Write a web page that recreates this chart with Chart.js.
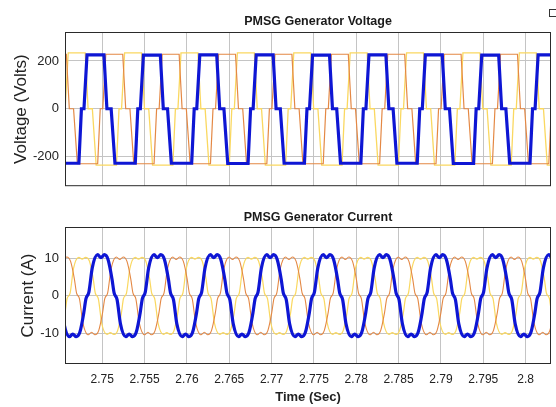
<!DOCTYPE html>
<html>
<head>
<meta charset="utf-8">
<title>PMSG Generator Voltage / Current</title>
<script src="https://cdn.jsdelivr.net/npm/chart.js"></script>
<style>
  html, body { margin: 0; padding: 0; background: #fff; }
  #wrap { position: relative; width: 556px; height: 407px; overflow: hidden; font-family: "Liberation Sans", Arial, sans-serif; }
  .plot { position: absolute; left: 0; width: 556px; }
  .ttl { position: absolute; left: 218px; width: 200px; text-align: center; font-weight: bold; font-size: 12.5px; line-height: 14px; color: #1a1a1a; white-space: nowrap; z-index: 2; }
  .icon { position: absolute; left: 549px; top: 9px; width: 6px; height: 6px; border: 1.5px solid #333; }
</style>
</head>
<body>
<div id="wrap">
  <div class="plot" style="top:0;height:200px"><canvas id="voltChart"></canvas></div>
  <div class="plot" style="top:200px;height:207px"><canvas id="currChart"></canvas></div>
  <div class="ttl" style="top:14px">PMSG Generator Voltage</div>
  <div class="ttl" style="top:210px">PMSG Generator Current</div>
  <div class="icon"></div>
</div>

<script>
// ---- axes ----
const xMin = 2.7456, xMax = 2.8030;
const timeTicks = [2.75, 2.755, 2.76, 2.765, 2.77, 2.775, 2.78, 2.785, 2.79, 2.795, 2.8];
const timeLabels = ["2.75", "2.755", "2.76", "2.765", "2.77", "2.775", "2.78", "2.785", "2.79", "2.795", "2.8"];
const voltTicks = [-200, 0, 200];
const currTicks = [-10, 0, 10];

// ---- generator voltage, phase a (blue) ----
const vBlueT = [
  2.74354, 2.74389, 2.74439, 2.74484,
  2.74724, 2.74754, 2.74784, 2.74820, 2.75020, 2.75055, 2.75105, 2.75150,
  2.75390, 2.75420, 2.75450, 2.75486, 2.75686, 2.75721, 2.75771, 2.75816,
  2.76056, 2.76086, 2.76116, 2.76152, 2.76352, 2.76387, 2.76437, 2.76482,
  2.76722, 2.76752, 2.76782, 2.76818, 2.77018, 2.77053, 2.77103, 2.77148,
  2.77388, 2.77418, 2.77448, 2.77484, 2.77684, 2.77719, 2.77769, 2.77814,
  2.78054, 2.78084, 2.78114, 2.78150, 2.78350, 2.78385, 2.78435, 2.78480,
  2.78720, 2.78750, 2.78780, 2.78816, 2.79016, 2.79051, 2.79101, 2.79146,
  2.79386, 2.79416, 2.79446, 2.79482, 2.79682, 2.79717, 2.79767, 2.79812,
  2.80052, 2.80082, 2.80112, 2.80148, 2.80348
];
const vBlue = [
  225, 0, 0, -228,
  -228, 0, 0, 225, 225, 0, 0, -228,
  -228, 0, 0, 224, 224, 0, 0, -228,
  -228, 0, 0, 225, 225, 0, 0, -229,
  -229, 0, 0, 225, 225, 0, 0, -228,
  -228, 0, 0, 224, 224, 0, 0, -228,
  -228, 0, 0, 225, 225, 0, 0, -228,
  -228, 0, 0, 225, 225, 0, 0, -229,
  -229, 0, 0, 224, 224, 0, 0, -228,
  -228, 0, 0, 225, 225
];

// ---- phase b (orange) ----
const vOrangeT = [
  2.74280, 2.74310, 2.74340, 2.74376, 2.74576, 2.74611, 2.74661, 2.74706,
  2.74946, 2.74976, 2.75006, 2.75042, 2.75242, 2.75277, 2.75327, 2.75372,
  2.75612, 2.75642, 2.75672, 2.75708, 2.75908, 2.75943, 2.75993, 2.76038,
  2.76278, 2.76308, 2.76338, 2.76374, 2.76574, 2.76609, 2.76659, 2.76704,
  2.76944, 2.76974, 2.77004, 2.77040, 2.77240, 2.77275, 2.77325, 2.77370,
  2.77610, 2.77640, 2.77670, 2.77706, 2.77906, 2.77941, 2.77991, 2.78036,
  2.78276, 2.78306, 2.78336, 2.78372, 2.78572, 2.78607, 2.78657, 2.78702,
  2.78942, 2.78972, 2.79002, 2.79038, 2.79238, 2.79273, 2.79323, 2.79368,
  2.79608, 2.79638, 2.79668, 2.79704, 2.79904, 2.79939, 2.79989, 2.80034,
  2.80274, 2.80304, 2.80334
];
const vOrange = [
  -230, 0, 0, 228, 228, 0, 0, -230,
  -230, 0, 0, 228, 228, 0, 0, -230,
  -230, 0, 0, 228, 228, 0, 0, -230,
  -230, 0, 0, 228, 228, 0, 0, -230,
  -230, 0, 0, 228, 228, 0, 0, -230,
  -230, 0, 0, 228, 228, 0, 0, -230,
  -230, 0, 0, 228, 228, 0, 0, -230,
  -230, 0, 0, 228, 228, 0, 0, -230,
  -230, 0, 0, 228, 228, 0, 0, -230,
  -230, 0, 0
];

// ---- phase c (yellow) ----
const vYellowT = [
  2.74132, 2.74167, 2.74217, 2.74262,
  2.74502, 2.74532, 2.74562, 2.74598, 2.74798, 2.74833, 2.74883, 2.74928,
  2.75168, 2.75198, 2.75228, 2.75264, 2.75464, 2.75499, 2.75549, 2.75594,
  2.75834, 2.75864, 2.75894, 2.75930, 2.76130, 2.76165, 2.76215, 2.76260,
  2.76500, 2.76530, 2.76560, 2.76596, 2.76796, 2.76831, 2.76881, 2.76926,
  2.77166, 2.77196, 2.77226, 2.77262, 2.77462, 2.77497, 2.77547, 2.77592,
  2.77832, 2.77862, 2.77892, 2.77928, 2.78128, 2.78163, 2.78213, 2.78258,
  2.78498, 2.78528, 2.78558, 2.78594, 2.78794, 2.78829, 2.78879, 2.78924,
  2.79164, 2.79194, 2.79224, 2.79260, 2.79460, 2.79495, 2.79545, 2.79590,
  2.79830, 2.79860, 2.79890, 2.79926, 2.80126, 2.80161, 2.80211, 2.80256,
  2.80496
];
const vYellow = [
  234, 0, 0, -236,
  -236, 0, 0, 234, 234, 0, 0, -236,
  -236, 0, 0, 234, 234, 0, 0, -236,
  -236, 0, 0, 234, 234, 0, 0, -236,
  -236, 0, 0, 234, 234, 0, 0, -236,
  -236, 0, 0, 234, 234, 0, 0, -236,
  -236, 0, 0, 234, 234, 0, 0, -236,
  -236, 0, 0, 234, 234, 0, 0, -236,
  -236, 0, 0, 234, 234, 0, 0, -236,
  -236, 0, 0, 234, 234, 0, 0, -236,
  -236
];

// ---- generator current, phase a (blue) ----
const iBlueT = [
  2.74359, 2.74404, 2.74449, 2.74474, 2.74509, 2.74549, 2.74612, 2.74652, 2.74692, 2.74737, 2.74782, 2.74807, 2.74842, 2.74882,
  2.74945, 2.74985, 2.75025, 2.75070, 2.75115, 2.75140, 2.75175, 2.75215, 2.75278, 2.75318, 2.75358, 2.75403, 2.75448, 2.75473, 2.75508, 2.75548,
  2.75611, 2.75651, 2.75691, 2.75736, 2.75781, 2.75806, 2.75841, 2.75881, 2.75944, 2.75984, 2.76024, 2.76069, 2.76114, 2.76139, 2.76174, 2.76214,
  2.76277, 2.76317, 2.76357, 2.76402, 2.76447, 2.76472, 2.76507, 2.76547, 2.76610, 2.76650, 2.76690, 2.76735, 2.76780, 2.76805, 2.76840, 2.76880,
  2.76943, 2.76983, 2.77023, 2.77068, 2.77113, 2.77138, 2.77173, 2.77213, 2.77276, 2.77316, 2.77356, 2.77401, 2.77446, 2.77471, 2.77506, 2.77546,
  2.77609, 2.77649, 2.77689, 2.77734, 2.77779, 2.77804, 2.77839, 2.77879, 2.77942, 2.77982, 2.78022, 2.78067, 2.78112, 2.78137, 2.78172, 2.78212,
  2.78275, 2.78315, 2.78355, 2.78400, 2.78445, 2.78470, 2.78505, 2.78545, 2.78608, 2.78648, 2.78688, 2.78733, 2.78778, 2.78803, 2.78838, 2.78878,
  2.78941, 2.78981, 2.79021, 2.79066, 2.79111, 2.79136, 2.79171, 2.79211, 2.79274, 2.79314, 2.79354, 2.79399, 2.79444, 2.79469, 2.79504, 2.79544,
  2.79607, 2.79647, 2.79687, 2.79732, 2.79777, 2.79802, 2.79837, 2.79877, 2.79940, 2.79980, 2.80020, 2.80065, 2.80110, 2.80135, 2.80170, 2.80210,
  2.80273, 2.80313, 2.80353
];
const iBlue = [
  11.0, 9.6, 4.5, 0.8, -1.0, -7.5, -10.9, -10.2, -10.9, -9.6, -4.5, -0.8, 1.0, 7.5,
  11.0, 10.2, 11.0, 9.6, 4.5, 0.8, -1.0, -7.5, -10.9, -10.2, -10.9, -9.6, -4.5, -0.8, 1.0, 7.5,
  11.0, 10.2, 11.0, 9.6, 4.5, 0.8, -1.0, -7.5, -10.9, -10.2, -10.9, -9.6, -4.5, -0.8, 1.0, 7.5,
  11.0, 10.2, 11.0, 9.6, 4.5, 0.8, -1.0, -7.5, -10.9, -10.2, -10.9, -9.6, -4.5, -0.8, 1.0, 7.5,
  11.0, 10.2, 11.0, 9.6, 4.5, 0.8, -1.0, -7.5, -10.9, -10.2, -10.9, -9.6, -4.5, -0.8, 1.0, 7.5,
  11.0, 10.2, 11.0, 9.6, 4.5, 0.8, -1.0, -7.5, -10.9, -10.2, -10.9, -9.6, -4.5, -0.8, 1.0, 7.5,
  11.0, 10.2, 11.0, 9.6, 4.5, 0.8, -1.0, -7.5, -10.9, -10.2, -10.9, -9.6, -4.5, -0.8, 1.0, 7.5,
  11.0, 10.2, 11.0, 9.6, 4.5, 0.8, -1.0, -7.5, -10.9, -10.2, -10.9, -9.6, -4.5, -0.8, 1.0, 7.5,
  11.0, 10.2, 11.0, 9.6, 4.5, 0.8, -1.0, -7.5, -10.9, -10.2, -10.9, -9.6, -4.5, -0.8, 1.0, 7.5,
  11.0, 10.2, 11.0
];

// ---- phase b (orange) ----
const iOrangeT = [
  2.74338, 2.74363, 2.74398, 2.74438,
  2.74501, 2.74541, 2.74581, 2.74626, 2.74671, 2.74696, 2.74731, 2.74771, 2.74834, 2.74874, 2.74914, 2.74959, 2.75004, 2.75029, 2.75064, 2.75104,
  2.75167, 2.75207, 2.75247, 2.75292, 2.75337, 2.75362, 2.75397, 2.75437, 2.75500, 2.75540, 2.75580, 2.75625, 2.75670, 2.75695, 2.75730, 2.75770,
  2.75833, 2.75873, 2.75913, 2.75958, 2.76003, 2.76028, 2.76063, 2.76103, 2.76166, 2.76206, 2.76246, 2.76291, 2.76336, 2.76361, 2.76396, 2.76436,
  2.76499, 2.76539, 2.76579, 2.76624, 2.76669, 2.76694, 2.76729, 2.76769, 2.76832, 2.76872, 2.76912, 2.76957, 2.77002, 2.77027, 2.77062, 2.77102,
  2.77165, 2.77205, 2.77245, 2.77290, 2.77335, 2.77360, 2.77395, 2.77435, 2.77498, 2.77538, 2.77578, 2.77623, 2.77668, 2.77693, 2.77728, 2.77768,
  2.77831, 2.77871, 2.77911, 2.77956, 2.78001, 2.78026, 2.78061, 2.78101, 2.78164, 2.78204, 2.78244, 2.78289, 2.78334, 2.78359, 2.78394, 2.78434,
  2.78497, 2.78537, 2.78577, 2.78622, 2.78667, 2.78692, 2.78727, 2.78767, 2.78830, 2.78870, 2.78910, 2.78955, 2.79000, 2.79025, 2.79060, 2.79100,
  2.79163, 2.79203, 2.79243, 2.79288, 2.79333, 2.79358, 2.79393, 2.79433, 2.79496, 2.79536, 2.79576, 2.79621, 2.79666, 2.79691, 2.79726, 2.79766,
  2.79829, 2.79869, 2.79909, 2.79954, 2.79999, 2.80024, 2.80059, 2.80099, 2.80162, 2.80202, 2.80242, 2.80287, 2.80332
];
const iOrange = [
  -4.5, -0.8, 0.8, 7.2,
  10.4, 9.7, 10.4, 9.2, 4.5, 0.8, -0.8, -7.2, -10.4, -9.7, -10.4, -9.2, -4.5, -0.8, 0.8, 7.2,
  10.4, 9.7, 10.4, 9.2, 4.5, 0.8, -0.8, -7.2, -10.4, -9.7, -10.4, -9.2, -4.5, -0.8, 0.8, 7.2,
  10.4, 9.7, 10.4, 9.2, 4.5, 0.8, -0.8, -7.2, -10.4, -9.7, -10.4, -9.2, -4.5, -0.8, 0.8, 7.2,
  10.4, 9.7, 10.4, 9.2, 4.5, 0.8, -0.8, -7.2, -10.4, -9.7, -10.4, -9.2, -4.5, -0.8, 0.8, 7.2,
  10.4, 9.7, 10.4, 9.2, 4.5, 0.8, -0.8, -7.2, -10.4, -9.7, -10.4, -9.2, -4.5, -0.8, 0.8, 7.2,
  10.4, 9.7, 10.4, 9.2, 4.5, 0.8, -0.8, -7.2, -10.4, -9.7, -10.4, -9.2, -4.5, -0.8, 0.8, 7.2,
  10.4, 9.7, 10.4, 9.2, 4.5, 0.8, -0.8, -7.2, -10.4, -9.7, -10.4, -9.2, -4.5, -0.8, 0.8, 7.2,
  10.4, 9.7, 10.4, 9.2, 4.5, 0.8, -0.8, -7.2, -10.4, -9.7, -10.4, -9.2, -4.5, -0.8, 0.8, 7.2,
  10.4, 9.7, 10.4, 9.2, 4.5, 0.8, -0.8, -7.2, -10.4, -9.7, -10.4, -9.2, -4.5
];

// ---- phase c (yellow) ----
const iYellowT = [
  2.74327, 2.74390, 2.74430, 2.74470, 2.74515, 2.74560, 2.74585, 2.74620, 2.74660,
  2.74723, 2.74763, 2.74803, 2.74848, 2.74893, 2.74918, 2.74953, 2.74993, 2.75056, 2.75096, 2.75136, 2.75181, 2.75226, 2.75251, 2.75286, 2.75326,
  2.75389, 2.75429, 2.75469, 2.75514, 2.75559, 2.75584, 2.75619, 2.75659, 2.75722, 2.75762, 2.75802, 2.75847, 2.75892, 2.75917, 2.75952, 2.75992,
  2.76055, 2.76095, 2.76135, 2.76180, 2.76225, 2.76250, 2.76285, 2.76325, 2.76388, 2.76428, 2.76468, 2.76513, 2.76558, 2.76583, 2.76618, 2.76658,
  2.76721, 2.76761, 2.76801, 2.76846, 2.76891, 2.76916, 2.76951, 2.76991, 2.77054, 2.77094, 2.77134, 2.77179, 2.77224, 2.77249, 2.77284, 2.77324,
  2.77387, 2.77427, 2.77467, 2.77512, 2.77557, 2.77582, 2.77617, 2.77657, 2.77720, 2.77760, 2.77800, 2.77845, 2.77890, 2.77915, 2.77950, 2.77990,
  2.78053, 2.78093, 2.78133, 2.78178, 2.78223, 2.78248, 2.78283, 2.78323, 2.78386, 2.78426, 2.78466, 2.78511, 2.78556, 2.78581, 2.78616, 2.78656,
  2.78719, 2.78759, 2.78799, 2.78844, 2.78889, 2.78914, 2.78949, 2.78989, 2.79052, 2.79092, 2.79132, 2.79177, 2.79222, 2.79247, 2.79282, 2.79322,
  2.79385, 2.79425, 2.79465, 2.79510, 2.79555, 2.79580, 2.79615, 2.79655, 2.79718, 2.79758, 2.79798, 2.79843, 2.79888, 2.79913, 2.79948, 2.79988,
  2.80051, 2.80091, 2.80131, 2.80176, 2.80221, 2.80246, 2.80281, 2.80321, 2.80384
];
const iYellow = [
  -7.3, -10.3, -9.8, -10.3, -9.3, -4.6, -0.7, 0.7, 7.3,
  10.3, 9.8, 10.3, 9.3, 4.6, 0.7, -0.7, -7.3, -10.3, -9.8, -10.3, -9.3, -4.6, -0.7, 0.7, 7.3,
  10.3, 9.8, 10.3, 9.3, 4.6, 0.7, -0.7, -7.3, -10.3, -9.8, -10.3, -9.3, -4.6, -0.7, 0.7, 7.3,
  10.3, 9.8, 10.3, 9.3, 4.6, 0.7, -0.7, -7.3, -10.3, -9.8, -10.3, -9.3, -4.6, -0.7, 0.7, 7.3,
  10.3, 9.8, 10.3, 9.3, 4.6, 0.7, -0.7, -7.3, -10.3, -9.8, -10.3, -9.3, -4.6, -0.7, 0.7, 7.3,
  10.3, 9.8, 10.3, 9.3, 4.6, 0.7, -0.7, -7.3, -10.3, -9.8, -10.3, -9.3, -4.6, -0.7, 0.7, 7.3,
  10.3, 9.8, 10.3, 9.3, 4.6, 0.7, -0.7, -7.3, -10.3, -9.8, -10.3, -9.3, -4.6, -0.7, 0.7, 7.3,
  10.3, 9.8, 10.3, 9.3, 4.6, 0.7, -0.7, -7.3, -10.3, -9.8, -10.3, -9.3, -4.6, -0.7, 0.7, 7.3,
  10.3, 9.8, 10.3, 9.3, 4.6, 0.7, -0.7, -7.3, -10.3, -9.8, -10.3, -9.3, -4.6, -0.7, 0.7, 7.3,
  10.3, 9.8, 10.3, 9.3, 4.6, 0.7, -0.7, -7.3, -10.3
];

const BLUE = "rgb(14, 22, 212)";
const ORANGE = "rgb(228, 136, 68)";
const YELLOW = "rgb(250, 216, 96)";
const GRID = "#c4c4c4";
const TEXT = "#222";

Chart.defaults.font.family = '"Liberation Sans", Arial, sans-serif';
Chart.defaults.color = TEXT;

// box around the plot area, like the scope frame
const frame = {
  id: "frame",
  afterDatasetsDraw(chart) {
    const { ctx, chartArea: a } = chart;
    ctx.save();
    ctx.strokeStyle = "#2a2a2a";
    ctx.lineWidth = 1;
    ctx.strokeRect(a.left + 0.5, a.top + 0.5, a.width - 1, a.height - 1);
    ctx.restore();
  },
};

function series(times, values, color, width, smooth) {
  return {
    data: times.map((t, i) => ({ x: t, y: values[i] })),
    borderColor: color,
    backgroundColor: color,
    borderWidth: width,
    pointRadius: 0,
    fill: false,
    tension: 0,
    cubicInterpolationMode: smooth ? "monotone" : "default",
  };
}

function makeChart(id, datasets, opt) {
  return new Chart(document.getElementById(id), {
    type: "line",
    data: { datasets },
    plugins: [frame],
    options: {
      responsive: true,
      maintainAspectRatio: false,
      animation: false,
      events: [],
      layout: { padding: { top: opt.padTop, right: 5, left: 0, bottom: 0 } },
      plugins: { legend: { display: false }, tooltip: { enabled: false } },
      scales: {
        x: {
          type: "linear",
          min: xMin,
          max: xMax,
          afterBuildTicks: (ax) => { ax.ticks = timeTicks.map((v) => ({ value: v })); },
          afterFit: (ax) => { ax.height = opt.xHeight; },
          grid: { color: GRID, drawTicks: false },
          border: { display: false },
          ticks: {
            display: opt.showX,
            padding: 8,
            font: { size: 12 },
            color: TEXT,
            maxRotation: 0,
            autoSkip: false,
            callback: (v, i) => timeLabels[i],
          },
          title: {
            display: opt.showX,
            text: "Time (Sec)",
            font: { size: 13, weight: "bold" },
            color: TEXT,
            padding: { top: 0, bottom: 2 },
          },
        },
        y: {
          min: opt.yMin,
          max: opt.yMax,
          afterBuildTicks: (ax) => { ax.ticks = opt.yTicks.map((v) => ({ value: v })); },
          afterFit: (ax) => { ax.width = 65; },
          grid: { color: GRID, drawTicks: false },
          border: { display: false },
          ticks: { padding: 6, font: { size: 13 }, color: TEXT },
          title: {
            display: true,
            text: opt.yTitle,
            font: { size: 17 },
            color: TEXT,
            padding: { top: opt.yTitlePad, bottom: 0 },
          },
        },
      },
    },
  });
}

makeChart(
  "voltChart",
  [
    series(vBlueT, vBlue, BLUE, 3.2, false),
    series(vOrangeT, vOrange, ORANGE, 1.2, false),
    series(vYellowT, vYellow, YELLOW, 1.3, false),
  ],
  { padTop: 32, xHeight: 13, showX: false, yMin: -324, yMax: 321, yTicks: voltTicks, yTitle: "Voltage (Volts)", yTitlePad: 11.5 }
);

makeChart(
  "currChart",
  [
    series(iBlueT, iBlue, BLUE, 3.2, true),
    series(iOrangeT, iOrange, ORANGE, 1.1, true),
    series(iYellowT, iYellow, YELLOW, 1.2, true),
  ],
  { padTop: 27, xHeight: 43, showX: true, yMin: -18.2, yMax: 18.4, yTicks: currTicks, yTitle: "Current (A)", yTitlePad: 18 }
);
</script>
</body>
</html>
